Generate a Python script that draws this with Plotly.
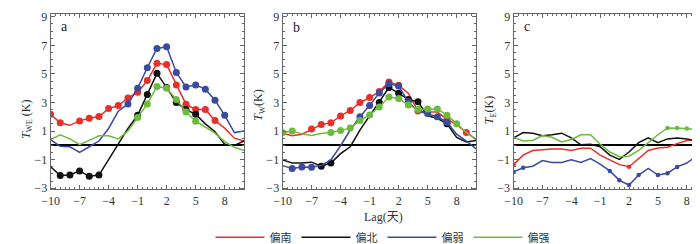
import plotly.graph_objects as go

lags = list(range(-10, 11))
series_names = ["偏南", "偏北", "偏弱", "偏强"]
colors = ["#e8302a", "#111111", "#3a4a9e", "#6cbb3c"]

# Panel a: T_WE
a_red = [2.17, 1.58, 1.40, 1.71, 1.89, 2.02, 2.57, 2.79, 3.32, 3.71, 4.53, 5.74, 5.65, 4.22, 2.88, 2.50, 2.50, 1.73, 1.20, 0.50, 0.30]
a_black = [-1.50, -2.12, -2.08, -1.79, -2.17, -2.08, -1.00, 0.08, 1.18, 2.10, 3.56, 5.04, 4.04, 3.00, 2.50, 2.17, 1.50, 0.95, 0.07, 0.00, 0.30]
a_blue = [0.40, -0.07, -0.10, -0.50, -0.10, 0.30, 1.18, 2.39, 2.90, 4.00, 5.43, 6.78, 6.90, 5.10, 4.09, 4.22, 3.93, 3.16, 2.10, 0.89, 1.00]
a_green = [0.40, 0.74, 0.45, 0.04, 0.35, 0.67, 0.67, 0.45, 1.00, 1.95, 2.90, 4.11, 4.00, 3.20, 2.33, 1.69, 1.30, 0.85, 0.26, -0.14, -0.36]
a_red_sig = [1, 1, 0, 1, 1, 1, 1, 1, 1, 1, 1, 1, 1, 1, 1, 1, 1, 1, 0, 0, 0]
a_black_sig = [0, 1, 1, 1, 1, 1, 0, 0, 0, 1, 1, 1, 1, 1, 1, 1, 0, 0, 0, 0, 0]
a_blue_sig = [0, 0, 0, 0, 0, 0, 0, 0, 1, 1, 1, 1, 1, 1, 1, 1, 1, 1, 1, 0, 0]
a_green_sig = [0, 0, 0, 0, 0, 0, 0, 0, 0, 1, 1, 1, 1, 1, 1, 1, 0, 0, 0, 0, 0]

# Panel b: T_W
b_red = [0.85, 0.67, 0.78, 1.14, 1.45, 1.58, 2.06, 2.44, 3.00, 3.34, 3.76, 4.44, 4.20, 3.65, 2.40, 2.33, 2.33, 1.84, 1.45, 0.90, 0.41]
b_black = [-1.02, -1.24, -1.24, -1.18, -1.46, -1.24, -0.58, -0.10, 1.07, 2.06, 2.99, 4.04, 3.65, 3.20, 3.05, 2.06, 1.89, 1.51, 0.56, 0.23, 0.34]
b_blue = [-1.42, -1.62, -1.51, -1.53, -1.42, -1.02, -0.03, 1.07, 2.00, 2.79, 3.67, 4.31, 4.15, 3.05, 2.39, 2.22, 2.00, 1.62, 0.78, 0.30, -0.25]
b_green = [0.89, 1.00, 0.80, 0.69, 0.83, 0.89, 1.03, 1.22, 1.73, 2.13, 2.68, 3.38, 3.27, 2.83, 2.50, 2.55, 2.55, 2.11, 1.51, 0.90, 0.41]
b_red_sig = [0, 0, 0, 1, 1, 1, 1, 1, 1, 1, 1, 1, 1, 0, 1, 0, 0, 1, 0, 1, 0]
b_black_sig = [0, 0, 0, 0, 1, 1, 0, 0, 0, 0, 1, 1, 1, 1, 1, 0, 0, 1, 0, 0, 0]
b_blue_sig = [0, 1, 1, 1, 0, 0, 0, 0, 1, 1, 1, 1, 1, 1, 0, 1, 1, 1, 0, 0, 0]
b_green_sig = [1, 1, 0, 0, 0, 1, 1, 1, 1, 1, 1, 1, 1, 1, 1, 1, 1, 1, 1, 0, 0]

# Panel c: T_E
c_red = [-1.35, -0.69, -0.36, -0.30, -0.25, -0.25, -0.36, -0.21, -0.20, -0.69, -1.02, -1.35, -1.50, -0.91, -0.36, -0.19, -0.14, 0.12, 0.34, 0.41, 0.19]
c_black = [0.52, 0.89, 0.85, 0.67, 0.74, 0.85, 0.52, 0.04, 0.08, -0.10, -0.69, -0.98, -0.47, 0.19, 0.52, 0.19, 0.45, 0.52, 0.45, 0.30, 0.08]
c_blue = [-1.86, -1.57, -1.46, -1.07, -1.20, -1.20, -1.02, -1.20, -0.93, -1.31, -1.79, -2.45, -2.78, -2.08, -1.62, -2.08, -1.95, -1.51, -1.24, -0.76, -1.24]
c_green = [0.56, 0.30, 0.34, 0.69, 0.56, 0.23, 0.41, 0.74, 0.74, 0.08, -0.47, -0.80, -0.76, -0.36, 0.19, 0.74, 1.22, 1.22, 1.18, 1.07, 0.74]
c_red_sig = [1, 0, 0, 0, 0, 0, 0, 0, 0, 0, 0, 0, 1, 0, 0, 0, 0, 0, 0, 1, 0]
c_black_sig = [0] * 21
c_blue_sig = [1, 1, 0, 0, 0, 0, 0, 0, 0, 0, 1, 1, 1, 1, 0, 1, 1, 1, 0, 0, 0]
c_green_sig = [0, 0, 0, 0, 0, 0, 0, 0, 0, 0, 0, 0, 0, 0, 0, 0, 1, 1, 1, 1, 0]

panels = [
    ("a", "<i>T</i><sub>WE</sub> (K)", [a_red, a_black, a_blue, a_green], [a_red_sig, a_black_sig, a_blue_sig, a_green_sig]),
    ("b", "<i>T</i><sub>W</sub>(K)", [b_red, b_black, b_blue, b_green], [b_red_sig, b_black_sig, b_blue_sig, b_green_sig]),
    ("c", "<i>T</i><sub>E</sub>(K)", [c_red, c_black, c_blue, c_green], [c_red_sig, c_black_sig, c_blue_sig, c_green_sig]),
]

W, H = 700, 244
x_doms = [(34, 230), (269, 465), (503, 698)]
y_top, y_bot = 2.3, 187.3
title_pos = [(10, 113), (245, 98), (480, 104)]
letter_pos = [(48, 15), (283, 16), (517, 15)]
marker_sizes = [7, 7, 4.5]

fig = go.Figure()
serif = "Liberation Serif, Times New Roman, serif"
annotations = []

for i, (letter, ytitle, ys, sigs) in enumerate(panels):
    xa = "x" if i == 0 else f"x{i+1}"
    ya = "y" if i == 0 else f"y{i+1}"
    for k in range(4):
        fig.add_trace(go.Scatter(
            x=lags, y=ys[k], mode="lines", name=series_names[k],
            line=dict(color=colors[k], width=1.5),
            xaxis=xa, yaxis=ya, showlegend=(i == 0), legendgroup=series_names[k],
        ))
        my = [v if s else None for v, s in zip(ys[k], sigs[k])]
        fig.add_trace(go.Scatter(
            x=lags, y=my, mode="markers", name=series_names[k],
            marker=dict(color=colors[k], size=marker_sizes[i]),
            xaxis=xa, yaxis=ya, showlegend=False, legendgroup=series_names[k],
        ))
    x0, x1 = x_doms[i]
    axcommon = dict(showline=True, linecolor="#666666", linewidth=1, mirror="allticks",
                    ticks="inside", ticklen=4, tickcolor="#666666", showgrid=False,
                    ticklabeloverflow="allow",
                    tickfont=dict(family=serif, size=12, color="#333333"))
    fig.update_layout(**{
        ("xaxis" if i == 0 else f"xaxis{i+1}"): dict(
            domain=[x0 / W, x1 / W], range=[-10, 10], tick0=-10, dtick=3,
            anchor=ya, zeroline=False,
            minor=dict(dtick=0.5, tick0=-10, ticks="inside", ticklen=2, tickcolor="#666666", showgrid=False),
            **axcommon),
        ("yaxis" if i == 0 else f"yaxis{i+1}"): dict(
            domain=[1 - y_bot / H, 1 - y_top / H], range=[-3.08, 9.18], tick0=-3, dtick=2,
            anchor=xa, zeroline=True, zerolinecolor="#000000", zerolinewidth=1.5,
            minor=dict(dtick=0.5, tick0=-3, ticks="inside", ticklen=2, tickcolor="#666666", showgrid=False),
            **axcommon),
    })
    tx, ty = title_pos[i]
    annotations.append(dict(x=tx / W, y=1 - ty / H, xref="paper", yref="paper", text=ytitle,
                            showarrow=False, textangle=-90, xanchor="center", yanchor="middle",
                            font=dict(family=serif, size=12, color="#333333")))
    lx, ly = letter_pos[i]
    annotations.append(dict(x=lx / W, y=1 - ly / H, xref="paper", yref="paper", text=letter,
                            showarrow=False, xanchor="center", yanchor="middle",
                            font=dict(family=serif, size=14, color="#222222")))

annotations.append(dict(x=371 / W, y=1 - 217 / H, xref="paper", yref="paper", text="Lag(天)",
                        showarrow=False, xanchor="center", yanchor="middle",
                        font=dict(family="Liberation Serif, Noto Sans CJK SC", size=12, color="#333333")))

fig.update_layout(
    width=W, height=H, margin=dict(l=0, r=0, t=0, b=0),
    paper_bgcolor="white", plot_bgcolor="white",
    annotations=annotations,
    showlegend=True,
    legend=dict(orientation="h", x=196 / W, xanchor="left", y=1 - 238 / H, yanchor="middle",
                font=dict(family="Noto Sans CJK SC", size=11, color="#333333"),
                itemwidth=49, entrywidth=22, entrywidthmode="pixels", bgcolor="rgba(0,0,0,0)"),
)

fig.write_html("out.html")
